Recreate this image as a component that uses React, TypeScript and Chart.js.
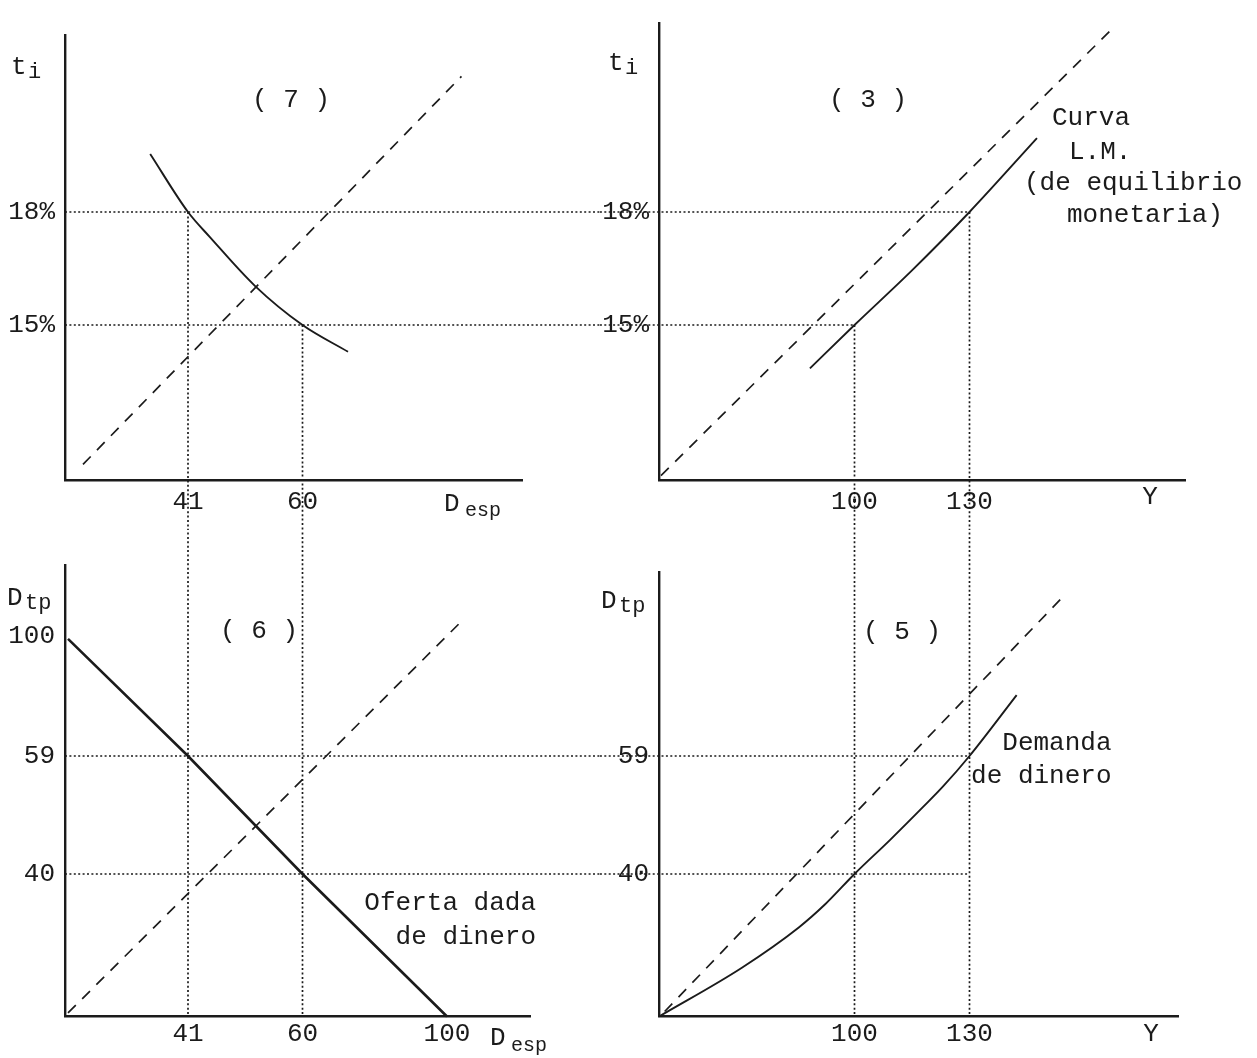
import React, { useEffect, useRef } from "react";
import { Chart, registerables, LinearScale } from "chart.js";

Chart.register(...registerables);

// ---------------- data ----------------
// tick values on each axis
const tiTicks = [15, 18];
const despTicksTop = [41, 60];
const despTicksBottom = [41, 60, 100];
const incomeTicks = [100, 130];
const dtpTicksLeft = [40, 59, 100];
const dtpTicksRight = [40, 59];

// equilibrium pairs that the dotted guide lines join
const pairDesp = [41, 60];
const pairTi = [18, 15];
const pairIncome = [130, 100];
const pairDtp = [59, 40];

// (7) speculative demand for money vs. interest rate
const specDemandDesp = [28.4, 41, 44.6, 52.1, 60, 72.6];
const specDemandTi = [19.54, 18, 17.34, 16.04, 15, 14.29];
const diag7Desp = [6, 104];
const diag7Ti = [11.3, 21.6];

// (3) LM curve
const lmIncome = [77.2, 100, 115, 130, 147.6];
const lmTi = [13.85, 15, 16.45, 18, 19.96];
const diag3Income = [1, 167.6];
const diag3Ti = [11.0, 22.9];

// (6) given money supply
const supplyDesp = [1, 41, 60, 100];
const supplyDtp = [99, 59, 40, 0];
const diag6Desp = [1, 104];
const diag6Dtp = [1, 105];

// (5) demand for money
const demandIncome = [0, 42.4, 71.5, 85, 100, 109.3, 117.9, 123.1, 130, 142.3];
const demandDtp = [0, 13.7, 25.0, 31.5, 40, 45.5, 50.8, 54.1, 59, 79.8];
const diag5Income = [2.9, 154.3];
const diag5Dtp = [1.4, 113.3];

// ---------------- styling ----------------
const INK = "#1b1b1b";
const FONT = '"Liberation Mono", "DejaVu Sans Mono", monospace';

// A linear scale whose spacing between labelled values is set by anchors
// (the hand-drawn axes are not evenly spaced).
class PiecewiseScale extends LinearScale {
  static id = "piecewise";
  static defaults = {};
  _anch(): { v: number[]; p: number[] } {
    const o: any = this.options;
    return { v: o.anchorValues, p: o.anchorOffsets };
  }
  getPixelForValue(value: number) {
    const { v, p } = this._anch();
    const n = v.length;
    let i = 0;
    while (i < n - 2 && value > v[i + 1]) i++;
    const off = p[i] + ((value - v[i]) * (p[i + 1] - p[i])) / (v[i + 1] - v[i]);
    return this.isHorizontal() ? this.left + off : this.bottom - off;
  }
  getValueForPixel(pixel: number) {
    const { v, p } = this._anch();
    const n = v.length;
    const off = this.isHorizontal() ? pixel - this.left : this.bottom - pixel;
    let i = 0;
    while (i < n - 2 && off > p[i + 1]) i++;
    return v[i] + ((off - p[i]) * (v[i + 1] - v[i])) / (p[i + 1] - p[i]);
  }
}
Chart.register(PiecewiseScale as any);

const DESP_ANCHORS = { values: [0, 41, 60, 100], offsets: [0, 123, 237.5, 382] };
const TI_ANCHORS = { values: [15, 18], offsets: [155, 268] };
const INCOME_ANCHORS = { values: [0, 100, 130], offsets: [0, 195.5, 310.5] };
const DTP_ANCHORS = { values: [0, 40, 59, 100], offsets: [0, 142.5, 260.5, 380.5] };

function axis(
  kind: "x" | "y",
  anchors: { values: number[]; offsets: number[] },
  ticks: number[],
  fmt: (v: number) => string,
  padding: number,
  box: number
) {
  return {
    type: "piecewise",
    position: kind === "x" ? "bottom" : "left",
    anchorValues: anchors.values,
    anchorOffsets: anchors.offsets,
    afterBuildTicks: (s: any) => {
      s.ticks = ticks.map((v) => ({ value: v }));
    },
    afterFit: (s: any) => {
      if (kind === "x") s.height = box;
      else s.width = box;
    },
    grid: { color: "rgba(0,0,0,0)", drawTicks: false },
    border: { display: true, color: INK, width: 2.4 },
    ticks: {
      autoSkip: false,
      maxRotation: 0,
      padding,
      color: INK,
      font: { family: FONT, size: 26, lineHeight: 1 },
      callback: (v: number) => fmt(v),
    },
  };
}

const DOTTED = { borderWidth: 1.7, borderDash: [2, 2.4], tension: 0 };
const DASHED = { borderWidth: 1.7, borderDash: [11, 9], tension: 0 };
const SOLID = { borderWidth: 1.9, cubicInterpolationMode: "monotone" };

function series(xs: number[], ys: number[], style: object) {
  return {
    data: xs.map((x, i) => ({ x, y: ys[i] })),
    pointRadius: 0,
    clip: false,
    fill: false,
    borderColor: INK,
    ...style,
  };
}

type Label = {
  t: string;
  x: number;
  y: number;
  size?: number;
  align?: CanvasTextAlign;
  base?: CanvasTextBaseline;
};

function textPlugin(items: Label[]) {
  return {
    id: "typedText",
    afterDraw(chart: any) {
      const ctx = chart.ctx as CanvasRenderingContext2D;
      ctx.save();
      ctx.fillStyle = INK;
      for (const l of items) {
        ctx.font = `${l.size || 26}px ${FONT}`;
        ctx.textAlign = l.align || "left";
        ctx.textBaseline = l.base || "alphabetic";
        ctx.fillText(l.t, l.x, l.y);
      }
      ctx.restore();
    },
  };
}

function buildConfig(
  padding: { top: number; right: number },
  x: any,
  y: any,
  datasets: any[],
  labels: Label[]
): any {
  return {
    type: "line",
    data: { datasets },
    options: {
      animation: false,
      responsive: false,
      devicePixelRatio: 1,
      events: [],
      layout: { padding: { left: 0, bottom: 0, ...padding } },
      plugins: { legend: { display: false }, tooltip: { enabled: false } },
      scales: { x, y },
    },
    plugins: [textPlugin(labels)],
  };
}

const pct = (v: number) => `${v}%`;
const num = (v: number) => `${v}`;

// (7) top-left
const panel7 = () =>
  buildConfig(
    { top: 35, right: 78 },
    axis("x", DESP_ANCHORS, despTicksTop, num, 9, 50),
    axis("y", TI_ANCHORS, tiTicks, pct, 10, 65),
    [
      ...pairTi.map((t) => series([0, 200], [t, t], DOTTED)),
      ...pairDesp.map((d, i) => series([d, d], [pairTi[i], 0], DOTTED)),
      series(diag7Desp, diag7Ti, DASHED),
      series(specDemandDesp, specDemandTi, SOLID),
    ],
    [
      { t: "t", x: 11, y: 74 },
      { t: "i", x: 28, y: 78, size: 22 },
      { t: "( 7 )", x: 291, y: 100, align: "center", base: "middle" },
      { t: "D", x: 444, y: 511 },
      { t: "esp", x: 465, y: 516, size: 20 },
    ]
  );

// (3) top-right
const panel3 = () =>
  buildConfig(
    { top: 12, right: 72 },
    axis("x", INCOME_ANCHORS, incomeTicks, num, 9, 50),
    axis("y", TI_ANCHORS, tiTicks, pct, 10, 59),
    [
      ...pairTi.map((t, i) => series([-100, pairIncome[i]], [t, t], DOTTED)),
      ...pairIncome.map((v, i) => series([v, v], [pairTi[i], 0], DOTTED)),
      series(diag3Income, diag3Ti, DASHED),
      series(lmIncome, lmTi, SOLID),
    ],
    [
      { t: "t", x: 8, y: 70 },
      { t: "i", x: 25, y: 74, size: 22 },
      { t: "( 3 )", x: 268, y: 100, align: "center", base: "middle" },
      { t: "Curva", x: 452, y: 118, base: "middle" },
      { t: "L.M.", x: 469, y: 152, base: "middle" },
      { t: "(de equilibrio", x: 424, y: 183, base: "middle" },
      { t: "monetaria)", x: 467, y: 215, base: "middle" },
      { t: "Y", x: 550, y: 497, align: "center", base: "middle" },
    ]
  );

// (6) bottom-left
const panel6 = () =>
  buildConfig(
    { top: 35, right: 70 },
    axis("x", DESP_ANCHORS, despTicksBottom, num, 4.5, 41.5),
    axis("y", DTP_ANCHORS, dtpTicksLeft, num, 10, 65),
    [
      ...pairDtp.map((t) => series([0, 200], [t, t], DOTTED)),
      ...pairDesp.map((d) => series([d, d], [200, 0], DOTTED)),
      series(diag6Desp, diag6Dtp, DASHED),
      series(supplyDesp, supplyDtp, { borderWidth: 2.6, tension: 0 }),
    ],
    [
      { t: "D", x: 7, y: 75 },
      { t: "tp", x: 25, y: 79, size: 22 },
      { t: "( 6 )", x: 259, y: 101, align: "center", base: "middle" },
      { t: "D", x: 490, y: 515 },
      { t: "esp", x: 511, y: 521, size: 20 },
      { t: "Oferta dada", x: 536, y: 373.5, align: "right", base: "middle" },
      { t: "de dinero", x: 536, y: 407.5, align: "right", base: "middle" },
    ]
  );

// (5) bottom-right
const panel5 = () =>
  buildConfig(
    { top: 42, right: 78.5 },
    axis("x", INCOME_ANCHORS, incomeTicks, num, 4.5, 41.5),
    axis("y", DTP_ANCHORS, dtpTicksRight, num, 10, 59),
    [
      ...pairDtp.map((t) => series([-100, pairIncome[0]], [t, t], DOTTED)),
      ...pairIncome.map((v) => series([v, v], [200, 0], DOTTED)),
      series(diag5Income, diag5Dtp, DASHED),
      series(demandIncome, demandDtp, SOLID),
    ],
    [
      { t: "D", x: 1, y: 78 },
      { t: "tp", x: 19, y: 82, size: 22 },
      { t: "( 5 )", x: 302, y: 102, align: "center", base: "middle" },
      { t: "Demanda", x: 511.5, y: 213, align: "right", base: "middle" },
      { t: "de dinero", x: 511.5, y: 246.5, align: "right", base: "middle" },
      { t: "Y", x: 551, y: 504, align: "center", base: "middle" },
    ]
  );

type PanelSpec = { left: number; top: number; width: number; height: number; build: () => any };

const PANELS: PanelSpec[] = [
  { left: 0, top: 0, width: 600, height: 530, build: panel7 },
  { left: 600, top: 0, width: 657, height: 530, build: panel3 },
  { left: 0, top: 530, width: 600, height: 528, build: panel6 },
  { left: 600, top: 530, width: 657, height: 528, build: panel5 },
];

function ChartPanel({ spec }: { spec: PanelSpec }) {
  const ref = useRef<HTMLCanvasElement | null>(null);
  useEffect(() => {
    if (!ref.current) return;
    const chart = new Chart(ref.current, spec.build());
    return () => chart.destroy();
  }, [spec]);
  return (
    <canvas
      ref={ref}
      width={spec.width}
      height={spec.height}
      style={{ position: "absolute", left: spec.left, top: spec.top, width: spec.width, height: spec.height }}
    />
  );
}

export default function App() {
  return (
    <div
      style={{
        position: "absolute",
        left: 0,
        top: 0,
        width: 1257,
        height: 1058,
        background: "#ffffff",
        overflow: "hidden",
      }}
    >
      {PANELS.map((p, i) => (
        <ChartPanel key={i} spec={p} />
      ))}
    </div>
  );
}
